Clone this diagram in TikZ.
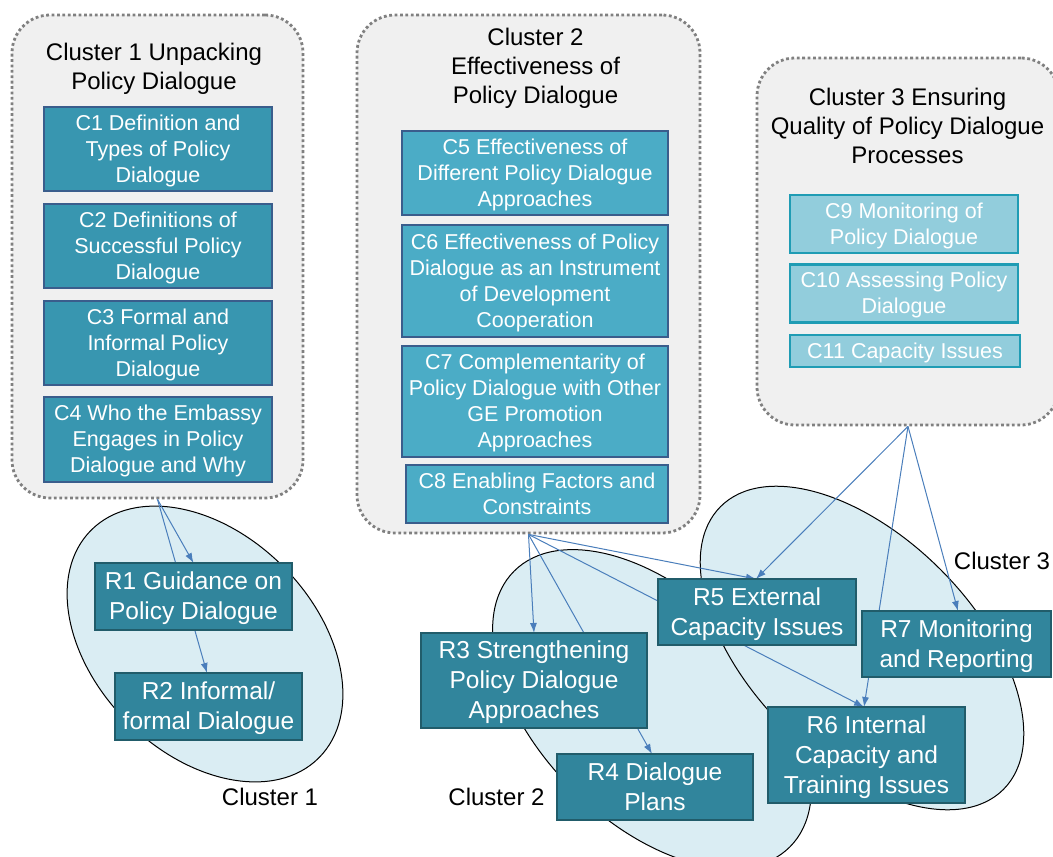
\documentclass[tikz,border=0pt]{standalone}
\usepackage{fontspec}
\setmainfont{Liberation Sans}
\usetikzlibrary{shapes.geometric,arrows.meta}
\definecolor{boxgray}{HTML}{F0F0F0}
\definecolor{dotgray}{HTML}{808080}
\definecolor{cAfill}{HTML}{3896B0}
\definecolor{cBfill}{HTML}{4BACC6}
\definecolor{cCfill}{HTML}{92CDDC}
\definecolor{cborder}{HTML}{3A5D8C}
\definecolor{cCborder}{HTML}{1F9CB4}
\definecolor{rfill}{HTML}{31859C}
\definecolor{rborder}{HTML}{215C6A}
\definecolor{elfill}{HTML}{DAEDF3}
\definecolor{arrowblue}{HTML}{4A7EBB}
\newcommand\ts{\rule{0pt}{0.905em}}
\newcommand\mybotstrut{\rule[-0.212em]{0pt}{0pt}}
\begin{document}
\begin{tikzpicture}[x=1pt,y=-1pt,
  cluster/.style={draw=dotgray, fill=boxgray, line width=2.8pt, dash pattern=on 2.8pt off 2.6pt, rounded corners=38pt, inner sep=0pt},
  ctitle/.style={align=center, font=\fontsize{24}{29}\selectfont, inner sep=0pt},
  cA/.style={draw=cborder, fill=cAfill, line width=2.2pt, text=white, align=center, font=\fontsize{21.5}{26}\selectfont, inner sep=0pt, execute at end node=\mybotstrut},
  cB/.style={cA, fill=cBfill},
  cC/.style={cA, fill=cCfill, draw=cCborder},
  rbox/.style={draw=rborder, fill=rfill, line width=2.5pt, text=white, align=center, font=\fontsize{24.5}{30}\selectfont, inner sep=0pt, execute at end node=\mybotstrut},
  clus/.style={ellipse, draw=black, line width=1pt, fill=elfill, inner sep=0pt},
  link/.style={draw=arrowblue, line width=1pt, -{Latex[length=10pt,width=7pt]}},
  lab/.style={font=\fontsize{24}{29}\selectfont, inner sep=0pt}]
\useasboundingbox (0,0) rectangle (1053,857);
% cluster boxes
\node[cluster, minimum width=291pt, minimum height=483pt] (cl1) at (157.5,256.5) {};
\node[cluster, minimum width=343pt, minimum height=518pt] (cl2) at (528.5,274) {};
\node[cluster, minimum width=302pt, minimum height=367pt] (cl3) at (908,241.5) {};
\node[ctitle] (t1) at (154,69) {Cluster 1 Unpacking\\Policy Dialogue};
\node[ctitle] (t2) at (535.5,68.5) {Cluster 2\\Effectiveness of\\Policy Dialogue};
\node[ctitle] (t3) at (907.5,125.5) {Cluster 3 Ensuring\\Quality of Policy Dialogue\\Processes};
% C boxes
\node[cA, minimum width=228pt, minimum height=84pt] (c1) at (158,149) {\ts C1 Definition and\\Types of Policy\\Dialogue};
\node[cA, minimum width=228pt, minimum height=84pt] (c2) at (158,246) {\ts C2 Definitions of\\Successful Policy\\Dialogue};
\node[cA, minimum width=228pt, minimum height=84pt] (c3) at (158,343) {\ts C3 Formal and\\Informal Policy\\Dialogue};
\node[cA, minimum width=228pt, minimum height=85pt] (c4) at (158,439.5) {\ts C4 Who the Embassy\\Engages in Policy\\Dialogue and Why};
\node[cB, minimum width=266pt, minimum height=84pt] (c5) at (535,173) {\ts C5 Effectiveness of\\Different Policy Dialogue\\Approaches};
\node[cB, minimum width=266pt, minimum height=112pt] (c6) at (535,281) {\ts C6 Effectiveness of Policy\\Dialogue as an Instrument\\of Development\\Cooperation};
\node[cB, minimum width=266pt, minimum height=111pt] (c7) at (535,401.5) {\ts C7 Complementarity of\\Policy Dialogue with Other\\GE Promotion\\Approaches};
\node[cB, minimum width=262pt, minimum height=58pt] (c8) at (537,494) {\ts C8 Enabling Factors and\\Constraints};
\node[cC, minimum width=228pt, minimum height=58pt] (c9) at (904,224) {\ts C9 Monitoring of\\Policy Dialogue};
\node[cC, minimum width=228pt, minimum height=58pt] (c10) at (904,293.5) {\ts C10 Assessing Policy\\Dialogue};
\node[cC, minimum width=230pt, minimum height=32pt] (c11) at (905,351) {\ts C11 Capacity Issues};
% result clusters
\node[clus, rotate=-45, minimum width=322pt, minimum height=220pt] (el1) at (205,644) {};
\node[clus, rotate=-45, minimum width=390pt, minimum height=226pt] (el2) at (652,709) {};
\node[clus, rotate=-45, minimum width=400pt, minimum height=222pt] (el3) at (862,648) {};
% connector end points (top edges of result boxes)
\coordinate (r1n) at (193.5,563);
\coordinate (r2n) at (207,673);
\coordinate (r3n) at (534,633);
\coordinate (r4n) at (652,754);
\coordinate (r5n) at (756,579);
\coordinate (r6n) at (864,707);
\coordinate (r7n) at (958,611);
% connectors
\draw[link] (cl1.south) -- (r1n);
\draw[link] (cl1.south) -- (r2n);
\draw[link] (cl2.south) -- (r3n);
\draw[link] (cl2.south) -- (r4n);
\draw[link] (cl2.south) -- (r5n);
\draw[link] (cl2.south) -- (r6n);
\draw[link] (cl3.south) -- (r5n);
\draw[link] (cl3.south) -- (r6n);
\draw[link] (cl3.south) -- (r7n);
% R boxes
\node[rbox, minimum width=197pt, minimum height=67pt] (r1) at (193.5,596.5) {\ts R1 Guidance on\\Policy Dialogue};
\node[rbox, minimum width=187pt, minimum height=67pt] (r2) at (208.5,706.5) {\ts R2 Informal/\\formal Dialogue};
\node[rbox, minimum width=226pt, minimum height=95pt] (r3) at (534,680.5) {\ts R3 Strengthening\\Policy Dialogue\\Approaches};
\node[rbox, minimum width=196pt, minimum height=66pt] (r4) at (655,787) {\ts R4 Dialogue\\Plans};
\node[rbox, minimum width=198pt, minimum height=66pt] (r5) at (757,612) {\ts R5 External\\Capacity Issues};
\node[rbox, minimum width=197pt, minimum height=96pt] (r6) at (866.5,755) {\ts R6 Internal\\Capacity and\\Training Issues};
\node[rbox, minimum width=189pt, minimum height=66pt] (r7) at (956.5,644) {\ts R7 Monitoring\\and Reporting};
% labels
\node[lab] (l1) at (270,797) {Cluster 1};
\node[lab] (l2) at (496.5,797) {Cluster 2};
\node[lab] (l3) at (1002,561) {Cluster 3};
\end{tikzpicture}
\end{document}
